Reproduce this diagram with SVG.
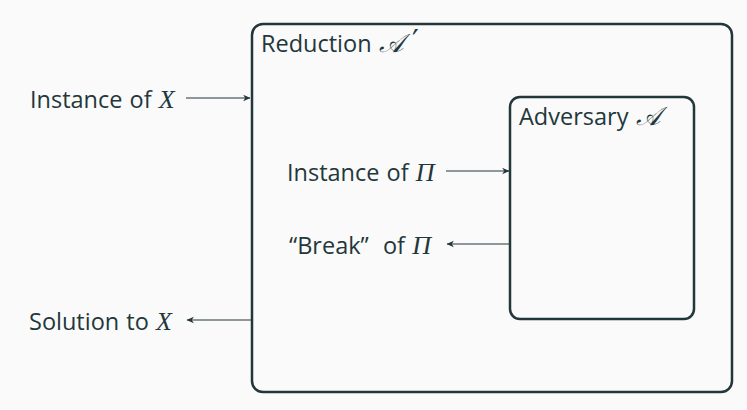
<svg xmlns="http://www.w3.org/2000/svg" width="747" height="410" viewBox="0 0 747 410">
<style>
.box{fill:none;stroke:#23373b;stroke-width:2.5}
.t{font-family:"Open Sans","Noto Sans",sans-serif;font-size:23.5px;fill:#23373b;word-spacing:1px}
.m{font-family:"Liberation Serif","DejaVu Serif",serif;font-style:italic;font-size:26px}
.p{font-family:"DejaVu Sans",sans-serif;font-size:30px}
.c{stroke:#23373b;stroke-width:1.1;fill:none}
</style>
<defs>
<marker id="ah" viewBox="0 0 10 10" refX="9" refY="5" markerWidth="8" markerHeight="8" orient="auto" markerUnits="userSpaceOnUse">
<path d="M0.5,1 L9.5,5 L0.5,9 L3,5 Z" fill="#23373b"/>
</marker>
</defs>
<rect width="747" height="410" fill="#fafafa"/>
<g id="reduction">
<rect class="box" x="252" y="24" width="480" height="368" rx="11"/>
<text class="t" x="261" y="52">Reduction <tspan class="m">𝒜</tspan></text>
<text class="t p" x="412" y="51">′</text>
</g>
<g id="adversary">
<rect class="box" x="510" y="97" width="184" height="222" rx="10"/>
<text class="t" x="519" y="125">Adversary <tspan class="m">𝒜</tspan></text>
</g>
<g id="labels">
<text class="t" x="30" y="108">Instance of <tspan class="m">X</tspan></text>
<text class="t" x="29" y="330">Solution to <tspan class="m">X</tspan></text>
<text class="t" x="287" y="181">Instance of <tspan class="m">Π</tspan></text>
<text class="t" x="289" y="254" xml:space="preserve">“Break”  of <tspan class="m">Π</tspan></text>
</g>
<g id="connectors">
<line class="c" x1="186" y1="98" x2="250" y2="98" marker-end="url(#ah)"/>
<line class="c" x1="251" y1="320" x2="187" y2="320" marker-end="url(#ah)"/>
<line class="c" x1="446" y1="171" x2="509" y2="171" marker-end="url(#ah)"/>
<line class="c" x1="509" y1="244" x2="447" y2="244" marker-end="url(#ah)"/>
</g>
</svg>
